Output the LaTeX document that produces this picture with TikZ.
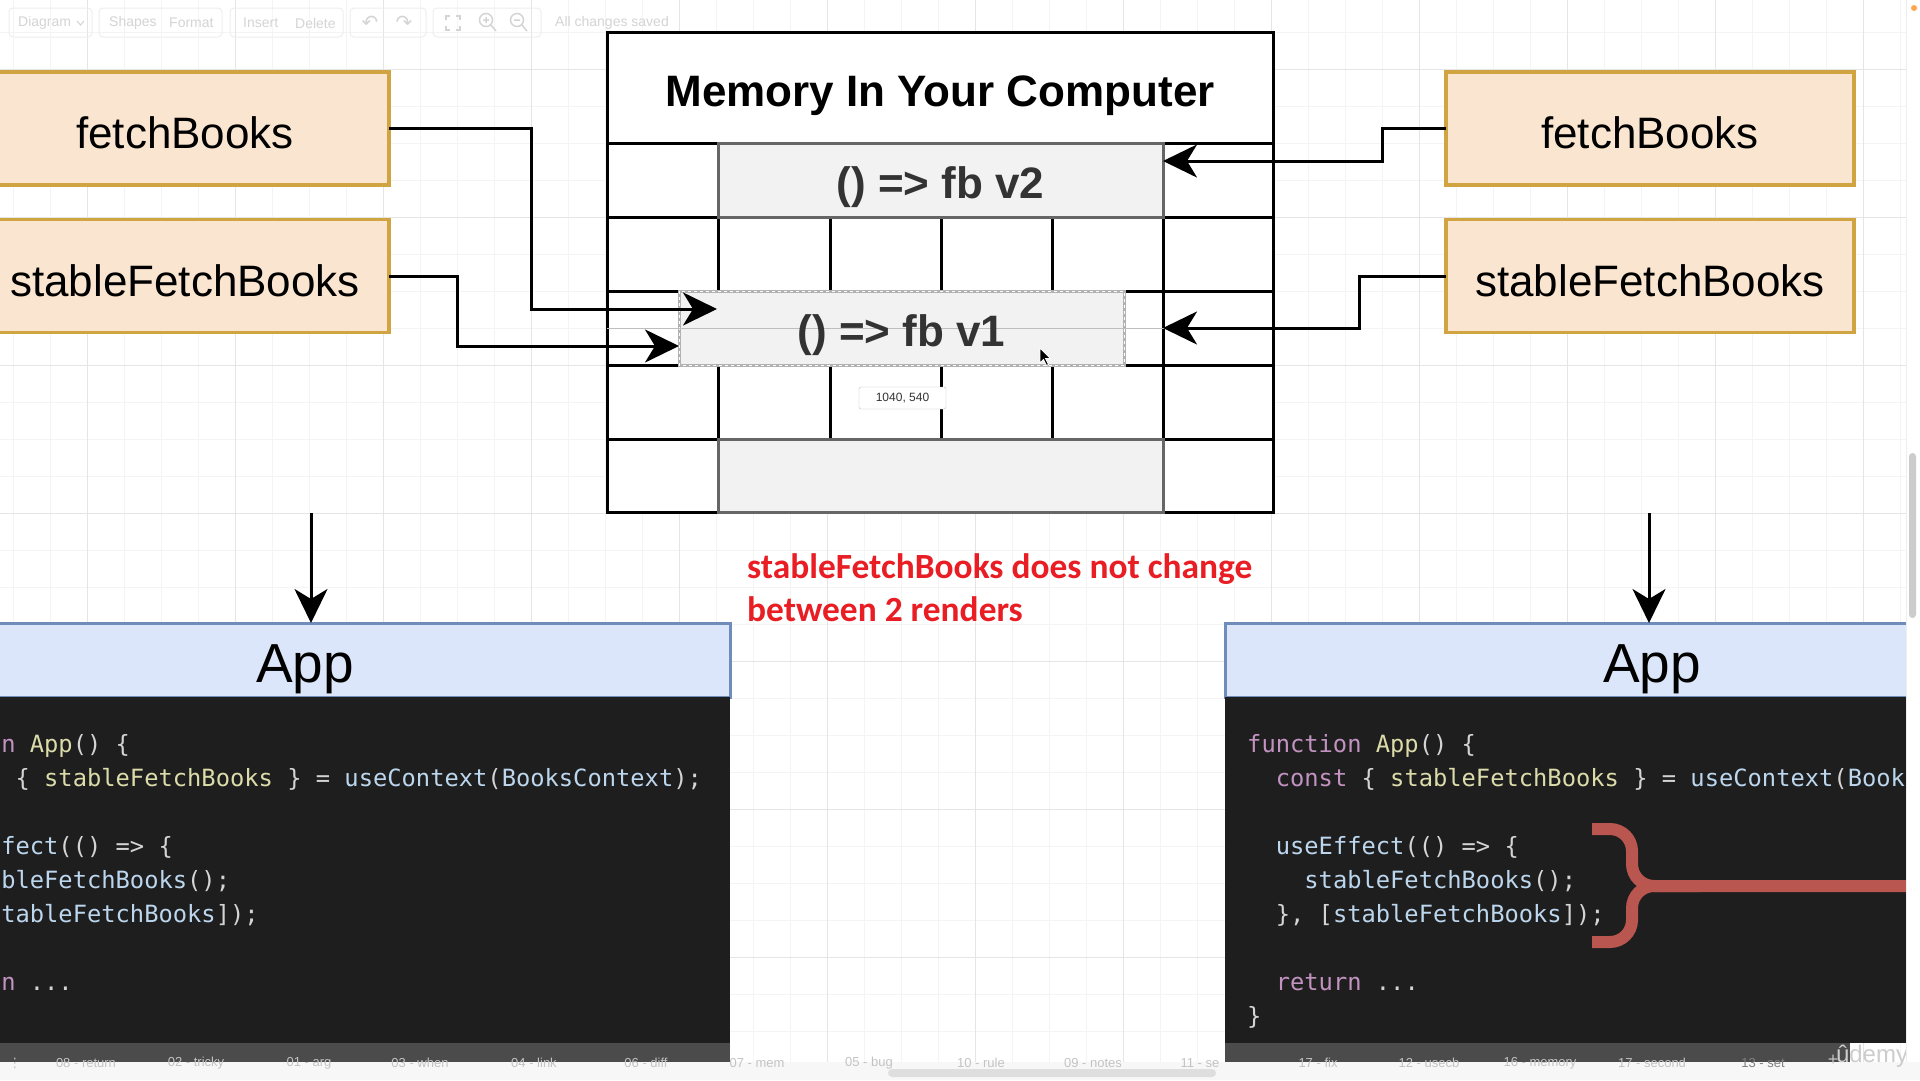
\documentclass[tikz,border=0pt]{standalone}
\usepackage{fontspec}
\setmainfont{Liberation Sans}
\newfontfamily\codefont{DejaVu Sans Mono}
\newfontfamily\calfont{Carlito}
\newfontfamily\symfont{DejaVu Sans}
\usetikzlibrary{arrows.meta}
\definecolor{colPeachFill}{RGB}{250,230,208}
\definecolor{colPeachDraw}{RGB}{208,164,64}
\definecolor{colAppFill}{RGB}{220,230,250}
\definecolor{colAppDraw}{RGB}{112,140,186}
\definecolor{colCellFill}{RGB}{242,242,242}
\definecolor{colCellDraw}{RGB}{102,102,102}
\definecolor{colDarkText}{RGB}{51,51,51}
\definecolor{colCodeBg}{RGB}{30,30,30}
\definecolor{colKw}{RGB}{194,146,192}
\definecolor{colFn}{RGB}{220,220,170}
\definecolor{colVar}{RGB}{188,214,238}
\definecolor{colPun}{RGB}{212,212,212}
\definecolor{colRed}{RGB}{232,30,36}
\definecolor{colBrace}{RGB}{184,86,79}
\definecolor{colGridMaj}{RGB}{229,229,229}
\definecolor{colGridMin}{RGB}{244,244,244}
\definecolor{colUi}{RGB}{212,212,212}
\definecolor{colUiBox}{RGB}{238,238,238}
\definecolor{colStrip}{RGB}{75,75,75}
\definecolor{colTab}{RGB}{195,195,195}
\definecolor{colGuide}{RGB}{190,190,190}

\begin{document}
\begin{tikzpicture}[x=1pt,y=-1pt,
  gridminor/.style={draw=colGridMin, line width=1pt},
  gridmajor/.style={draw=colGridMaj, line width=1pt},
  pbox/.style={draw=colPeachDraw, fill=colPeachFill, line width=3.5pt, outer sep=0pt, inner sep=0pt,
    minimum width=408pt, minimum height=113pt, text height=40pt, text depth=0pt, font=\fontsize{44}{50}\selectfont},
  cellbox/.style={draw=colCellDraw, fill=colCellFill, line width=3pt, outer sep=0pt, inner sep=0pt,
    minimum width=445pt, minimum height=74pt, text=colDarkText, text height=36pt, text depth=0pt,
    font=\bfseries\fontsize{44}{50}\selectfont},
  memline/.style={line width=3pt, draw=black},
  connarrow/.style={line width=3pt, draw=black, -{Stealth[length=34pt, width=33pt, inset=10pt]}},
  appbox/.style={draw=colAppDraw, fill=colAppFill, line width=3pt, outer sep=0pt, inner sep=0pt,
    minimum height=74pt, text height=44pt, text depth=0pt, font=\fontsize{55}{60}\selectfont},
  codepanel/.style={fill=colCodeBg, outer sep=0pt, inner sep=0pt, minimum height=346pt},
  codeln/.style={anchor=base west, inner sep=0pt, font=\codefont\fontsize{23.75}{30}\selectfont},
  notetxt/.style={anchor=base west, inner sep=0pt, text=colRed, font=\calfont\bfseries\fontsize{35.4}{42}\selectfont},
  uitext/.style={text=colUi, inner sep=0pt, font=\fontsize{14}{16}\selectfont},
  uibox/.style={draw=colUiBox, line width=1pt, rounded corners=4pt},
  uiicon/.style={draw=colUi, line width=1.5pt},
  tabtxt/.style={text=colTab, inner sep=0pt, font=\fontsize{13}{15}\selectfont}
]
\useasboundingbox (0,0) rectangle (1920,1080);
\fill[white] (0,0) rectangle (1920,1080);

% grid
\foreach \x in {13,50,...,1920} \draw[gridminor] (\x,0) -- (\x,1080);
\foreach \y in {32,69,...,1080} \draw[gridminor] (0,\y) -- (1920,\y);
\foreach \x in {87,235,...,1920} \draw[gridmajor] (\x,0) -- (\x,1080);
\foreach \y in {69,217,...,1080} \draw[gridmajor] (0,\y) -- (1920,\y);

% toolbar (faint)
\draw[uibox] (9,8) rectangle (92,37);
\draw[uibox] (99,8) rectangle (222,37);
\draw[uibox] (230,8) rectangle (343,37);
\draw[uibox] (350,8) rectangle (426,37);
\draw[uibox] (433,8) rectangle (541,37);
\node[uitext, anchor=west] (tbdiag) at (18,23) {Diagram};
\draw[uiicon, line width=1pt] (77,21) -- (80.5,25) -- (84,21);
\node[uitext, anchor=west] (tbshapes) at (109,23) {Shapes};
\node[uitext, anchor=west] (tbformat) at (169,23) {Format};
\node[uitext, anchor=west] (tbinsert) at (243,23) {Insert};
\node[uitext, anchor=west] (tbdelete) at (295,23) {Delete};
\node[uitext, font=\symfont\fontsize{20}{20}\selectfont] (tbundo) at (370,23) {↶};
\node[uitext, font=\symfont\fontsize{20}{20}\selectfont] (tbredo) at (404,23) {↷};
\draw[uiicon] (446,20) -- (446,16) -- (450,16) (456,16) -- (460,16) -- (460,20)
  (460,26) -- (460,30) -- (456,30) (450,30) -- (446,30) -- (446,26);
\draw[uiicon] (486,20) circle[radius=6.5pt] (491,25) -- (496,31) (483,20) -- (489,20) (486,17) -- (486,23);
\draw[uiicon] (517,20) circle[radius=6.5pt] (522,25) -- (527,31) (514,20) -- (520,20);
\node[uitext, anchor=west] (tbsaved) at (555,23) {All changes saved};

% memory block
\node[draw=black, line width=3pt, fill=white, outer sep=0pt, inner sep=0pt,
  minimum width=666pt, minimum height=480pt] (mem) at (940,272) {};
\node[font=\bfseries\fontsize{44}{50}\selectfont, inner sep=0pt, text height=28pt, text depth=0pt] (memtitle) at (940,92) {Memory In Your Computer};
\foreach \y in {143,217,291,365,439} \draw[memline] (607,\y) -- (1273,\y);
\foreach \x in {718,830,941,1052,1163} \draw[memline] (\x,143) -- (\x,512);
\node[cellbox] (v2) at (940.5,180) {() => fb v2};
\node[cellbox, minimum height=73pt] (vfree) at (940.5,475.5) {};
\node[cellbox, draw=gray!60] (v1) at (901.5,328) {};
\draw[white, line width=1pt, dash pattern=on 3pt off 3pt] (v1.north west) rectangle (v1.south east);
\draw[colGuide, line width=1pt] (mem.west |- v1.center) -- (mem.east |- v1.center);
\node[text=colDarkText, font=\bfseries\fontsize{44}{50}\selectfont, inner sep=0pt, text height=36pt, text depth=0pt] (v1label) at (v1.center) {() => fb v1};

% source boxes
\node[pbox] (lfb) at (185,128.5) {fetchBooks};
\node[pbox] (lsfb) at (185,276) {stableFetchBooks};
\node[pbox] (rfb) at (1650,128.5) {fetchBooks};
\node[pbox] (rsfb) at (1650,276) {stableFetchBooks};

% connectors
\coordinate (tipA) at (717,309);
\coordinate (tipB) at (679,346);
\coordinate (tipC) at (1163,161);
\coordinate (tipD) at (1163,328);
\draw[connarrow] (lfb.east) -- (531,128.5) -- (531,309) -- (tipA);
\draw[connarrow] (lsfb.east) -- (457,276) -- (457,346) -- (tipB);
\draw[connarrow] (rfb.west) -- (1382,128.5) -- (1382,161) -- (tipC);
\draw[connarrow] (rsfb.west) -- (1359,276) -- (1359,328) -- (tipD);

% App boxes and code
\node[appbox, minimum width=850pt] (lapp) at (305,660) {App};
\node[appbox, minimum width=854pt] (rapp) at (1652,660) {App};
\node[codepanel, minimum width=850pt] (lcode) at (305,870) {};
\node[codepanel, minimum width=854pt] (rcode) at (1652,870) {};
\coordinate (dl) at (311,513);
\coordinate (dr) at (1649,513);
\draw[connarrow] (dl) -- (dl |- lapp.north);
\draw[connarrow] (dr) -- (dr |- rapp.north);

% left code (visible part of the scrolled panel)
\node[codeln] (lc1) at (1.1,752) {\color{colFn}\makebox[0pt][l]{\color{colKw}n}\hspace{14.3pt} App\color{colPun}() \{};
\node[codeln] (lc2) at (15.4,786) {\color{colPun}\{ \color{colFn}stableFetchBooks \color{colPun}\} = \color{colVar}useContext\color{colPun}(\color{colVar}BooksContext\color{colPun});};
\node[codeln] (lc4) at (1.1,854) {\color{colVar}fect\color{colPun}(() => \{};
\node[codeln] (lc5) at (1.1,888) {\color{colVar}bleFetchBooks\color{colPun}();};
\node[codeln] (lc6) at (1.1,922) {\color{colVar}tableFetchBooks\color{colPun}]);};
\node[codeln] (lc8) at (1.1,990) {\color{colKw}n \color{colPun}...};

% right code
\node[codeln] (rc1) at (1247,752) {\color{colKw}function \color{colFn}App\color{colPun}() \{};
\node[codeln] (rc2) at (1275.6,786) {\color{colKw}const \color{colPun}\{ \color{colFn}stableFetchBooks \color{colPun}\} = \color{colVar}useContext\color{colPun}(\color{colVar}Book};
\node[codeln] (rc4) at (1275.6,854) {\color{colVar}useEffect\color{colPun}(() => \{};
\node[codeln] (rc5) at (1304.2,888) {\color{colVar}stableFetchBooks\color{colPun}();};
\node[codeln] (rc6) at (1275.6,922) {\color{colPun}\}, [\color{colVar}stableFetchBooks\color{colPun}]);};
\node[codeln] (rc8) at (1275.6,990) {\color{colKw}return \color{colPun}...};
\node[codeln] (rc9) at (1247,1024) {\color{colPun}\}};

% brace
\draw[colBrace, line width=12pt, rounded corners=22pt] (1592,829) -- (1632,829) -- (1632,886) -- (1920,886);
\draw[colBrace, line width=12pt, rounded corners=22pt] (1592,942) -- (1632,942) -- (1632,886) -- (1700,886);

% note
\node[notetxt] (note1) at (747,578) {stableFetchBooks does not change};
\node[notetxt] (note2) at (747,621) {between 2 renders};

% tooltip and cursor
\node[draw=colGuide, fill=white, rounded corners=2pt, minimum width=87pt, minimum height=22pt,
  inner sep=0pt, text=colDarkText, font=\fontsize{12}{14}\selectfont] (tooltip) at (902.5,398) {1040, 540};
\filldraw[fill=black, draw=white, line width=0.8pt] (1040,348) -- ++(0,15) -- ++(3.5,-3.5) -- ++(3,6)
  -- ++(2,-1) -- ++(-3,-6) -- ++(5,0) -- cycle;

% bottom strips
\fill[colStrip] (0,1043) rectangle (730,1062);
\fill[colStrip] (1225,1043) rectangle (1850,1062);
\fill[white!97!black] (0,1062) rectangle (1920,1080);
\fill[white!87!black, rounded corners=4pt] (888,1069) rectangle (1216,1077);
\node[tabtxt, font=\symfont\fontsize{13}{15}\selectfont] (t0) at (15,1063) {⋮};
\node[tabtxt] (t1) at (86,1063) {08 - return};
\node[tabtxt] (t2) at (196,1063) {02 - tricky};
\node[tabtxt] (t3) at (309,1063) {01 - arg};
\node[tabtxt] (t4) at (420,1063) {03 - when};
\node[tabtxt] (t5) at (534,1063) {04 - link};
\node[tabtxt] (t6) at (646,1063) {06 - diff};
\node[tabtxt] (t7) at (757,1063) {07 - mem};
\node[tabtxt] (t8) at (869,1063) {05 - bug};
\node[tabtxt] (t9) at (981,1063) {10 - rule};
\node[tabtxt] (t10) at (1093,1063) {09 - notes};
\node[tabtxt] (t11) at (1200,1063) {11 - se};
\node[tabtxt] (t12) at (1318,1063) {17 - fix};
\node[tabtxt] (t13) at (1429,1063) {12 - usecb};
\node[tabtxt] (t14) at (1540,1063) {16 - memory};
\node[tabtxt] (t15) at (1652,1063) {17 - second};
\node[tabtxt, text=gray] (t16) at (1763,1063) {13 - set};
\node[tabtxt, font=\fontsize{18}{18}\selectfont] (tplus) at (1833,1060) {+};
\node[text=white!80!black, inner sep=0pt, font=\fontsize{24}{26}\selectfont] (udemy) at (1872,1056) {ûdemy};

% right edge strip
\fill[white] (1906,0) rectangle (1920,1062);
\draw[colUiBox, line width=1pt] (1906,0) -- (1906,1062);
\fill[white!80!black, rounded corners=3.5pt] (1909,453) rectangle (1916,618);
\fill[orange!70] (1914,8) circle[radius=3pt];
\end{tikzpicture}
\end{document}
